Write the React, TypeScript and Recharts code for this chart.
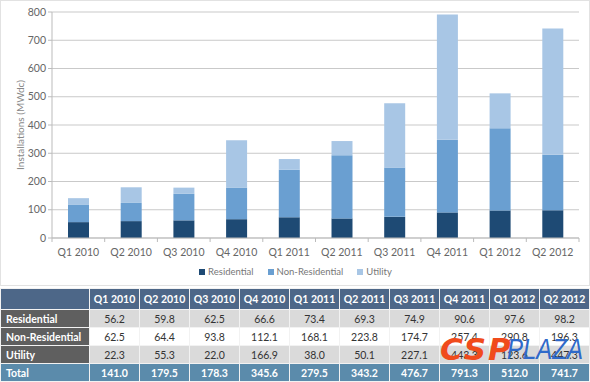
import React from 'react';
import { BarChart, Bar, XAxis, YAxis, CartesianGrid, Legend } from 'recharts';

const QUARTERS = ['Q1 2010', 'Q2 2010', 'Q3 2010', 'Q4 2010', 'Q1 2011', 'Q2 2011', 'Q3 2011', 'Q4 2011', 'Q1 2012', 'Q2 2012'];
const RESIDENTIAL = [56.2, 59.8, 62.5, 66.6, 73.4, 69.3, 74.9, 90.6, 97.6, 98.2];
const NON_RESIDENTIAL = [62.5, 64.4, 93.8, 112.1, 168.1, 223.8, 174.7, 257.4, 290.8, 196.3];
const UTILITY = [22.3, 55.3, 22.0, 166.9, 38.0, 50.1, 227.1, 443.3, 123.6, 447.3];
const TOTAL = [141.0, 179.5, 178.3, 345.6, 279.5, 343.2, 476.7, 791.3, 512.0, 741.7];
const Y_TICKS = [0, 100, 200, 300, 400, 500, 600, 700, 800];

const SERIES = [
  { key: 'residential', label: 'Residential', color: '#1e4a74' },
  { key: 'nonResidential', label: 'Non-Residential', color: '#6a9fd1' },
  { key: 'utility', label: 'Utility', color: '#a8c6e5' },
];

const data = QUARTERS.map((q, i) => ({
  quarter: q,
  residential: RESIDENTIAL[i],
  nonResidential: NON_RESIDENTIAL[i],
  utility: UTILITY[i],
}));

const TABLE_ROWS = [
  { label: 'Residential', values: RESIDENTIAL, bg: '#dadada' },
  { label: 'Non-Residential', values: NON_RESIDENTIAL, bg: '#ffffff' },
  { label: 'Utility', values: UTILITY, bg: '#dadada' },
];

const FONT = 'Lato, "Open Sans", sans-serif';

function QuarterTick(props: any) {
  const { x, y, payload, index } = props;
  const half = payload.offset ?? 0;
  return (
    <g>
      <line x1={x - half} x2={x - half} y1={y - 8} y2={y - 4} stroke="#bbb" />
      {index === QUARTERS.length - 1 && <line x1={x + half} x2={x + half} y1={y - 8} y2={y - 4} stroke="#bbb" />}
      <text x={x} y={y + 10} textAnchor="middle" fontSize={10.5} fill="#666" fontFamily={FONT}>
        {payload.value}
      </text>
    </g>
  );
}

function YLabel(props: any) {
  const { viewBox } = props;
  const cx = viewBox.x + 20;
  const cy = viewBox.y + viewBox.height / 2;
  return (
    <text x={cx} y={cy} transform={`rotate(-90 ${cx} ${cy})`} textAnchor="middle" dominantBaseline="central" fontSize={10} fill="#888" fontFamily={FONT}>
      Installations (MWdc)
    </text>
  );
}

function LegendContent() {
  return (
    <div style={{ display: 'flex', justifyContent: 'center', gap: 14, paddingLeft: 12, paddingTop: 6, fontFamily: FONT, fontSize: 9.5, color: '#777' }}>
      {SERIES.map((s) => (
        <span key={s.key} style={{ display: 'flex', alignItems: 'center', gap: 3 }}>
          <span style={{ width: 6, height: 6, background: s.color, display: 'inline-block' }} />
          {s.label}
        </span>
      ))}
    </div>
  );
}

const cellBase: React.CSSProperties = {
  border: '1px solid #f2f2f2',
  padding: 0,
  textAlign: 'center',
  fontSize: 10.5,
};

export default function App() {
  return (
    <div style={{ position: 'absolute', left: 0, top: 0, width: 590, height: 382, background: '#fff', fontFamily: FONT }}>
      <div style={{ position: 'absolute', left: 0, top: 0, width: 588, height: 284, border: '1px solid #e2e2e2' }} />
      <div style={{ position: 'absolute', left: 0, top: 0 }}>
        <BarChart width={590} height={286} data={data} margin={{ top: 12, right: 11, left: 0, bottom: 0 }} barSize={21}>
          <CartesianGrid vertical={false} stroke="#c9c9c9" />
          <XAxis dataKey="quarter" tick={<QuarterTick />} tickLine={false} axisLine={{ stroke: '#bbb' }} height={22} interval={0} />
          <YAxis
            domain={[0, 800]}
            ticks={Y_TICKS}
            width={52}
            axisLine={{ stroke: '#bbb' }}
            tickLine={{ stroke: '#bbb' }}
            tickSize={4}
            tick={{ fontSize: 10.5, fill: '#666', fontFamily: FONT }}
            label={<YLabel />}
            interval={0}
          />
          <Legend verticalAlign="bottom" height={26} content={<LegendContent />} />
          {SERIES.map((s) => (
            <Bar key={s.key} dataKey={s.key} name={s.label} stackId="a" fill={s.color} isAnimationActive={false} />
          ))}
        </BarChart>
      </div>

      <table style={{ position: 'absolute', left: 0, top: 288, width: 589, borderCollapse: 'collapse', tableLayout: 'fixed', fontFamily: FONT }}>
        <colgroup>
          <col style={{ width: 89 }} />
          {QUARTERS.map((q) => <col key={q} style={{ width: 50 }} />)}
        </colgroup>
        <tbody>
          <tr style={{ height: 21, background: '#4d6788', color: '#fff', fontWeight: 700 }}>
            <td style={cellBase} />
            {QUARTERS.map((q) => <td key={q} style={cellBase}>{q}</td>)}
          </tr>
          {TABLE_ROWS.map((r) => (
            <tr key={r.label} style={{ height: 18 }}>
              <td style={{ ...cellBase, background: '#5f5f5f', color: '#fff', fontWeight: 700, textAlign: 'left', paddingLeft: 5 }}>{r.label}</td>
              {r.values.map((v, i) => (
                <td key={i} style={{ ...cellBase, background: r.bg, color: '#333' }}>{v.toFixed(1)}</td>
              ))}
            </tr>
          ))}
          <tr style={{ height: 18, background: '#5b8bab', color: '#fff', fontWeight: 700 }}>
            <td style={{ ...cellBase, textAlign: 'left', paddingLeft: 5 }}>Total</td>
            {TOTAL.map((v, i) => <td key={i} style={cellBase}>{v.toFixed(1)}</td>)}
          </tr>
        </tbody>
      </table>

      {/* watermark over the table */}
      <div style={{ position: 'absolute', left: 440, top: 331, pointerEvents: 'none', fontFamily: '"DejaVu Sans", sans-serif', fontWeight: 700, fontStyle: 'italic', fontSize: 31, color: '#f04b1c', letterSpacing: 2, lineHeight: '36px' }}>
        CSP
      </div>
      <div style={{ position: 'absolute', left: 507, top: 331, pointerEvents: 'none', fontFamily: '"Liberation Sans", sans-serif', fontStyle: 'italic', fontSize: 30, color: '#2f69c9', lineHeight: '36px', transform: 'scaleX(0.8)', transformOrigin: 'left top' }}>
        PLAZA
      </div>
    </div>
  );
}
